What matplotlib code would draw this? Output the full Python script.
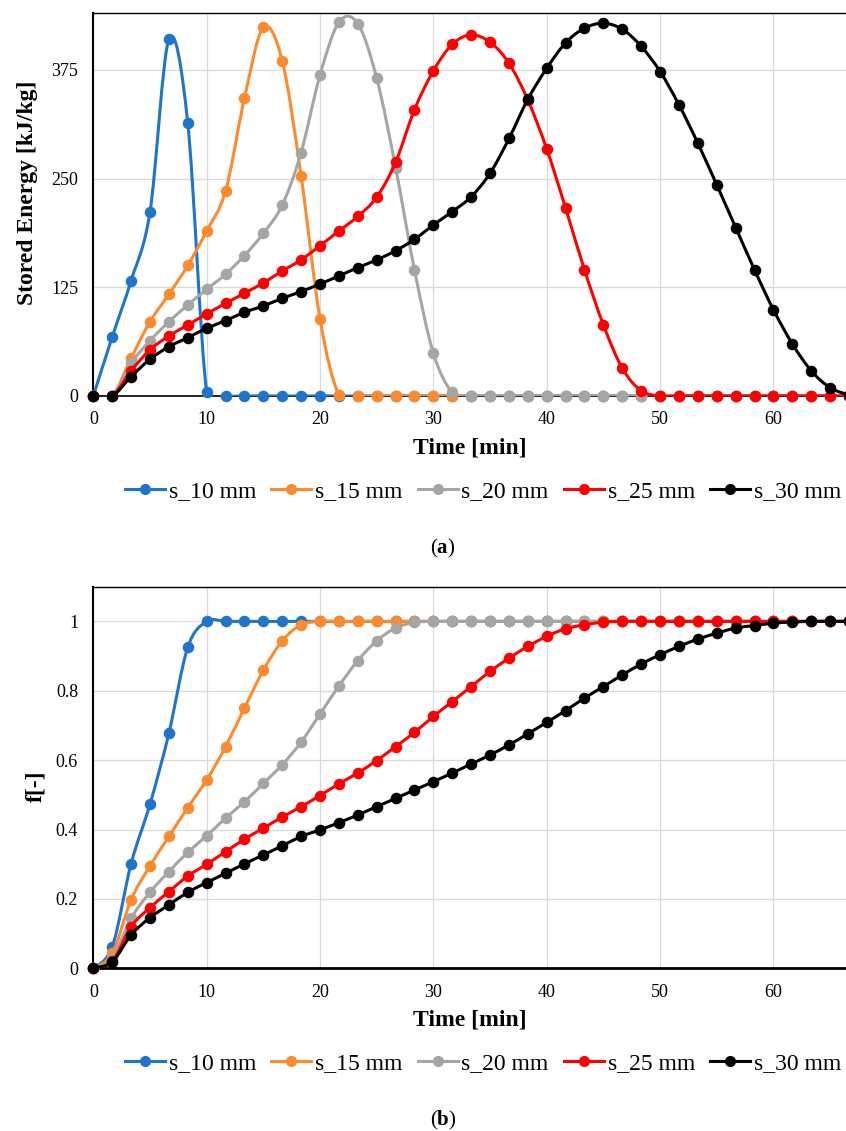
import matplotlib
matplotlib.use("Agg")
import matplotlib.pyplot as plt
from matplotlib.path import Path
from matplotlib.patches import PathPatch
import numpy as np

plt.rcParams['font.family'] = ['Liberation Serif', 'DejaVu Serif']
plt.rcParams['mathtext.fontset'] = 'custom'
plt.rcParams['mathtext.rm'] = 'Liberation Serif'
plt.rcParams['mathtext.bf'] = 'Liberation Serif:bold'

# time axis [min]
time_min = [0, 1.67, 3.33, 5, 6.67, 8.33, 10, 11.67, 13.33, 15, 16.67, 18.33, 20, 21.67,
            23.33, 25, 26.67, 28.33, 30, 31.67, 33.33, 35, 36.67, 38.33, 40, 41.67, 43.33,
            45, 46.67, 48.33, 50, 51.67, 53.33, 55, 56.67, 58.33, 60, 61.67, 63.33, 65, 66.67]

labels = ['s_10 mm', 's_15 mm', 's_20 mm', 's_25 mm', 's_30 mm']
colors = ['#1f75c9', '#fd8a2c', '#a5a5a5', '#ff0000', '#000000']

# stored energy [kJ/kg]
e_10 = [0, 68, 132.6, 211.6, 410, 314, 5, 0, 0, 0, 0, 0, 0, 0, 0, 0, 0, 0, 0, 0, 0,
        0, 0, 0, 0, 0, 0, 0, 0, 0, 0, 0, 0, 0, 0, 0, 0, 0, 0, 0, 0]
e_15 = [0, 0, 43.3, 85.4, 117, 150, 189.7, 235.7, 342, 423.6, 385, 253, 88.5, 1, 0, 0, 0, 0, 0, 0, 0,
        0, 0, 0, 0, 0, 0, 0, 0, 0, 0, 0, 0, 0, 0, 0, 0, 0, 0, 0, 0]
e_20 = [0, 0, 37.6, 63.6, 85.4, 104.6, 122.6, 140, 161.4, 187, 219.6, 279.8, 369, 429.7, 428,
        365.3, 262.6, 145, 49, 4, 0, 0, 0, 0, 0, 0, 0, 0, 0, 0, 0, 0, 0, 0, 0, 0, 0, 0, 0, 0, 0]
e_25 = [0, 0, 29, 53, 69, 81.6, 94.3, 106.6, 118, 130, 143.7, 156.4, 172.8, 189.7, 206.4, 228.5,
        268.7, 329, 373.7, 404.4, 415, 406.7, 382.5, 340.4, 284, 215.8, 145, 81.6, 31.8, 6,
        0, 0, 0, 0, 0, 0, 0, 0, 0, 0, 0]
e_30 = [0, 0, 22.2, 42.2, 56.7, 67, 77.8, 86.6, 96.2, 103.5, 112.3, 120, 128.8, 138, 147.6, 156.4,
        167, 180, 196.6, 212, 229, 256, 296, 341, 376.8, 406, 422.8, 428.5, 421.5, 402, 373,
        334.6, 290.6, 242.6, 193.6, 145, 99, 59.8, 29, 9.5, 1]

# fraction f [-]
f_10 = [0, 0.062, 0.301, 0.473, 0.678, 0.925, 1, 1, 1, 1, 1, 1, 1, 1, 1, 1, 1, 1, 1, 1, 1,
        1, 1, 1, 1, 1, 1, 1, 1, 1, 1, 1, 1, 1, 1, 1, 1, 1, 1, 1, 1]
f_15 = [0, 0.043, 0.197, 0.295, 0.38, 0.463, 0.543, 0.639, 0.75, 0.859, 0.944, 0.99, 1, 1, 1, 1,
        1, 1, 1, 1, 1, 1, 1, 1, 1, 1, 1, 1, 1, 1, 1, 1, 1, 1, 1, 1, 1, 1, 1, 1, 1]
f_20 = [0, 0.03, 0.144, 0.219, 0.279, 0.334, 0.382, 0.433, 0.48, 0.533, 0.587, 0.652, 0.733,
        0.814, 0.887, 0.944, 0.981, 0.997, 1, 1, 1, 1, 1, 1, 1, 1, 1, 1, 1, 1, 1, 1, 1, 1, 1,
        1, 1, 1, 1, 1, 1]
f_25 = [0, 0.02, 0.12, 0.175, 0.221, 0.266, 0.3, 0.336, 0.372, 0.404, 0.436, 0.466, 0.498, 0.532,
        0.563, 0.599, 0.639, 0.68, 0.726, 0.769, 0.812, 0.856, 0.894, 0.928, 0.957, 0.979, 0.99,
        0.998, 1, 1, 1, 1, 1, 1, 1, 1, 1, 1, 1, 1, 1]
f_30 = [0, 0.019, 0.096, 0.146, 0.183, 0.219, 0.247, 0.274, 0.301, 0.327, 0.353, 0.38, 0.399,
        0.42, 0.442, 0.466, 0.49, 0.514, 0.538, 0.563, 0.589, 0.615, 0.644, 0.676, 0.709, 0.743,
        0.779, 0.812, 0.846, 0.877, 0.904, 0.928, 0.949, 0.966, 0.981, 0.988, 0.995, 0.998, 1, 1, 1]

energy = [e_10, e_15, e_20, e_25, e_30]
fraction = [f_10, f_15, f_20, f_25, f_30]


def smooth_path(x, y):
    # Excel-like smoothed line: Bezier segments through the points
    x = np.asarray(x, float)
    y = np.asarray(y, float)
    p = np.column_stack([x, y])
    verts = [p[0]]
    codes = [Path.MOVETO]
    n = len(p)
    for i in range(n - 1):
        p0 = p[i - 1] if i > 0 else p[i]
        p1 = p[i]
        p2 = p[i + 1]
        p3 = p[i + 2] if i + 2 < n else p[i + 1]
        c1 = p1 + (p2 - p0) / 6.0
        c2 = p2 - (p3 - p1) / 6.0
        verts += [c1, c2, p2]
        codes += [Path.CURVE4] * 3
    return Path(verts, codes)


def draw_panel(ax, series, ylim, yticks, yticklabels, ylabel, ylabel_pos, bottom_lw):
    for k, (vals, col) in enumerate(zip(series, colors)):
        ax.add_patch(PathPatch(smooth_path(time_min, vals), facecolor='none', edgecolor=col,
                               lw=2.2, zorder=3 + 2 * k, capstyle='round', joinstyle='round'))
        ax.plot(time_min, vals, 'o', color=col, ms=7.3, zorder=4 + 2 * k, clip_on=False)
    ax.set_xlim(0, 66.4)
    ax.set_ylim(*ylim)
    ax.set_xticks([0, 10, 20, 30, 40, 50, 60])
    ax.set_yticks(yticks)
    ax.set_yticklabels(yticklabels)
    ax.tick_params(length=0, labelsize=13, pad=11)
    ax.grid(True, color='#d9d9d9', lw=0.9, zorder=0)
    ax.set_axisbelow(True)
    ax.spines['right'].set_visible(False)
    ax.spines['left'].set_linewidth(1.5)
    ax.spines['top'].set_linewidth(1.0)
    ax.spines['bottom'].set_linewidth(bottom_lw)
    ax.set_xlabel('Time [min]', fontsize=17, fontweight='bold')
    ax.xaxis.set_label_coords(0.5, -0.136)
    ax.xaxis.label.set_va('center')
    ax.set_ylabel(ylabel, fontsize=17, fontweight='bold')
    ax.yaxis.set_label_coords(*ylabel_pos)
    ax.yaxis.label.set_va('center')
    ax.yaxis.label.set_ha('center')


fig = plt.figure(figsize=(8.46, 11.31), dpi=100)

ax1 = fig.add_axes([0.1103, 0.6499, 0.8897, 0.3384])
draw_panel(ax1, energy, (0, 440), [0, 125, 250, 375], ['0', '125', '250', '375'],
           'Stored Energy [kJ/kg]', (-0.0874, 0.532), 1.2)

ax2 = fig.add_axes([0.1103, 0.14385, 0.8897, 0.3374])
draw_panel(ax2, fraction, (0, 1.1), [0, 0.2, 0.4, 0.6, 0.8, 1.0],
           ['0', '0.2', '0.4', '0.6', '0.8', '1'], 'f[-]', (-0.0765, 0.476), 2.0)

# legends
handles = [plt.Line2D([], [], color=c, lw=2.2, marker='o', ms=7) for c in colors]
for ycen in [1 - 491 / 1131, 1 - 1063 / 1131]:
    fig.legend(handles, labels, loc='center', bbox_to_anchor=(483 / 846, ycen), ncol=5,
               frameon=False, fontsize=17, handlelength=1.7, handletextpad=0.15,
               columnspacing=0.65, borderpad=0)

fig.text(443 / 846, 1 - 548 / 1131, r'$\mathrm{(}\mathbf{a}\mathrm{)}$', fontsize=15,
         ha='center', va='center')
fig.text(443 / 846, 1 - 1120 / 1131, r'$\mathrm{(}\mathbf{b}\mathrm{)}$', fontsize=15,
         ha='center', va='center')

fig.savefig('out.png', dpi=100)
